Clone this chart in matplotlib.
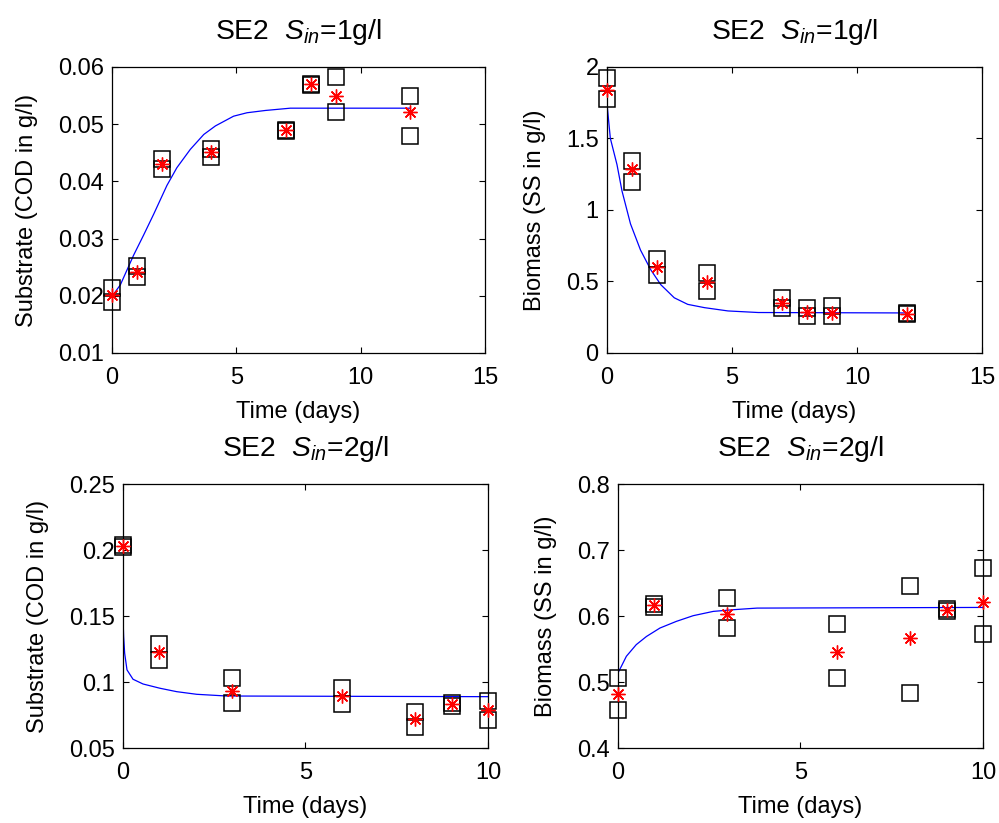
import matplotlib
matplotlib.use('Agg')
import matplotlib.pyplot as plt
from matplotlib.ticker import FuncFormatter

plt.rcParams['font.family'] = ['Liberation Sans', 'DejaVu Sans']
plt.rcParams['mathtext.fontset'] = 'custom'
plt.rcParams['mathtext.rm'] = 'Liberation Sans'
plt.rcParams['mathtext.it'] = 'Liberation Sans:italic'
plt.rcParams['font.size'] = 17

# ---- panel 1: substrate, Sin = 1 g/l
t1 = [0, 1, 2, 4, 7, 8, 9, 12]
s1_rep_a = [0.0213, 0.0252, 0.0439, 0.0456, 0.0490, 0.0571, 0.0582, 0.0549]
s1_rep_b = [0.0190, 0.0232, 0.0422, 0.0442, 0.0488, 0.0569, 0.0521, 0.0480]
s1_mean = [0.0201, 0.0242, 0.0430, 0.0452, 0.0489, 0.0570, 0.0549, 0.0521]
s1_fit_t = [0, 0.335, 0.87, 1.27, 1.68, 2.21, 2.61, 3.15, 3.69, 4.16, 4.89, 5.43, 6.17, 7.17, 12]
s1_fit_y = [0.0199, 0.0219, 0.0271, 0.0306, 0.0343, 0.0393, 0.0424, 0.0456, 0.0482,
            0.0497, 0.0514, 0.0520, 0.0524, 0.0528, 0.0528]

# ---- panel 2: biomass, Sin = 1 g/l
b1_rep_a = [1.926, 1.345, 0.655, 0.559, 0.386, 0.317, 0.329, 0.280]
b1_rep_b = [1.777, 1.195, 0.547, 0.432, 0.317, 0.260, 0.260, 0.272]
b1_mean = [1.841, 1.290, 0.600, 0.494, 0.352, 0.287, 0.283, 0.276]
b1_fit_t = [0, 0.134, 0.40, 0.60, 0.94, 1.34, 1.75, 2.15, 2.69, 3.23, 3.90, 4.84, 6.05, 12]
b1_fit_y = [1.743, 1.501, 1.317, 1.133, 0.903, 0.720, 0.582, 0.478, 0.386, 0.340,
            0.317, 0.294, 0.283, 0.280]

# ---- panel 3: substrate, Sin = 2 g/l
t2 = [0, 1, 3, 6, 8, 9, 10]
s2_rep_a = [0.2040, 0.1289, 0.1029, 0.0953, 0.0771, 0.0838, 0.0859]
s2_rep_b = [0.2025, 0.1167, 0.0844, 0.0831, 0.0662, 0.0821, 0.0712]
s2_mean = [0.2032, 0.1226, 0.0935, 0.0894, 0.0718, 0.0830, 0.0788]
s2_fit_t = [0, 0.018, 0.046, 0.11, 0.275, 0.55, 1.01, 1.47, 2.02, 2.84, 10]
s2_fit_y = [0.1496, 0.1344, 0.1218, 0.1092, 0.1021, 0.0985, 0.0953, 0.0927, 0.0907,
            0.0894, 0.0889]

# ---- panel 4: biomass, Sin = 2 g/l
b2_rep_a = [0.506, 0.618, 0.627, 0.588, 0.646, 0.611, 0.673]
b2_rep_b = [0.457, 0.614, 0.582, 0.506, 0.484, 0.608, 0.572]
b2_mean = [0.482, 0.616, 0.6035, 0.546, 0.567, 0.6096, 0.621]
b2_fit_t = [0, 0.01, 0.092, 0.23, 0.50, 0.78, 1.15, 1.60, 2.06, 2.61, 3.17, 3.81, 10]
b2_fit_y = [0.501, 0.515, 0.5237, 0.539, 0.5566, 0.569, 0.5818, 0.5919, 0.6005,
            0.607, 0.6096, 0.612, 0.613]

fig = plt.figure(figsize=(9.99, 8.23), dpi=100)

panels = [
    ([0.1121, 0.5711, 0.3734, 0.3475], t1, s1_rep_a, s1_rep_b, s1_mean, s1_fit_t, s1_fit_y,
     'SE2  $S_{in}$=1g/l', 'Substrate (COD in g/l)', (0, 15), (0.01, 0.06),
     [0, 5, 10, 15], [0.01, 0.02, 0.03, 0.04, 0.05, 0.06]),
    ([0.6076, 0.5711, 0.3754, 0.3475], t1, b1_rep_a, b1_rep_b, b1_mean, b1_fit_t, b1_fit_y,
     'SE2  $S_{in}$=1g/l', 'Biomass (SS in g/l)', (0, 15), (0, 2),
     [0, 5, 10, 15], [0, 0.5, 1, 1.5, 2]),
    ([0.1231, 0.0911, 0.3654, 0.3208], t2, s2_rep_a, s2_rep_b, s2_mean, s2_fit_t, s2_fit_y,
     'SE2  $S_{in}$=2g/l', 'Substrate (COD in g/l)', (0, 10), (0.05, 0.25),
     [0, 5, 10], [0.05, 0.1, 0.15, 0.2, 0.25]),
    ([0.6186, 0.0911, 0.3654, 0.3208], t2, b2_rep_a, b2_rep_b, b2_mean, b2_fit_t, b2_fit_y,
     'SE2  $S_{in}$=2g/l', 'Biomass (SS in g/l)', (0, 10), (0.4, 0.8),
     [0, 5, 10], [0.4, 0.5, 0.6, 0.7, 0.8]),
]

fmt = FuncFormatter(lambda v, p: '%g' % round(v, 4))

for rect, t, ra, rb, m, ft, fy, title, ylab, xl, yl, xt, yt in panels:
    ax = fig.add_axes(rect)
    ax.plot(ft, fy, color='#0000ff', lw=0.9, zorder=2)
    ax.plot(t, ra, ls='none', marker='s', ms=12, mfc='none', mec='black', mew=1.1,
            clip_on=False, zorder=3)
    ax.plot(t, rb, ls='none', marker='s', ms=12, mfc='none', mec='black', mew=1.1,
            clip_on=False, zorder=3)
    ax.plot(t, m, ls='none', marker=(8, 2, 0), ms=10, mec='red', mew=1.0,
            clip_on=False, zorder=4)
    ax.set_xlim(*xl)
    ax.set_ylim(*yl)
    ax.set_xticks(xt)
    ax.set_yticks(yt)
    ax.xaxis.set_major_formatter(fmt)
    ax.yaxis.set_major_formatter(fmt)
    ax.tick_params(direction='in', top=True, right=True, length=4, width=0.8)
    ax.tick_params(axis='x', pad=10)
    ax.tick_params(axis='y', pad=6)
    for sp in ax.spines.values():
        sp.set_linewidth(0.9)
    ax.set_title(title, pad=20)
    ax.set_xlabel('Time (days)', labelpad=9)
    ax.set_ylabel(ylab, labelpad=14)

fig.savefig('out.png', dpi=100)
